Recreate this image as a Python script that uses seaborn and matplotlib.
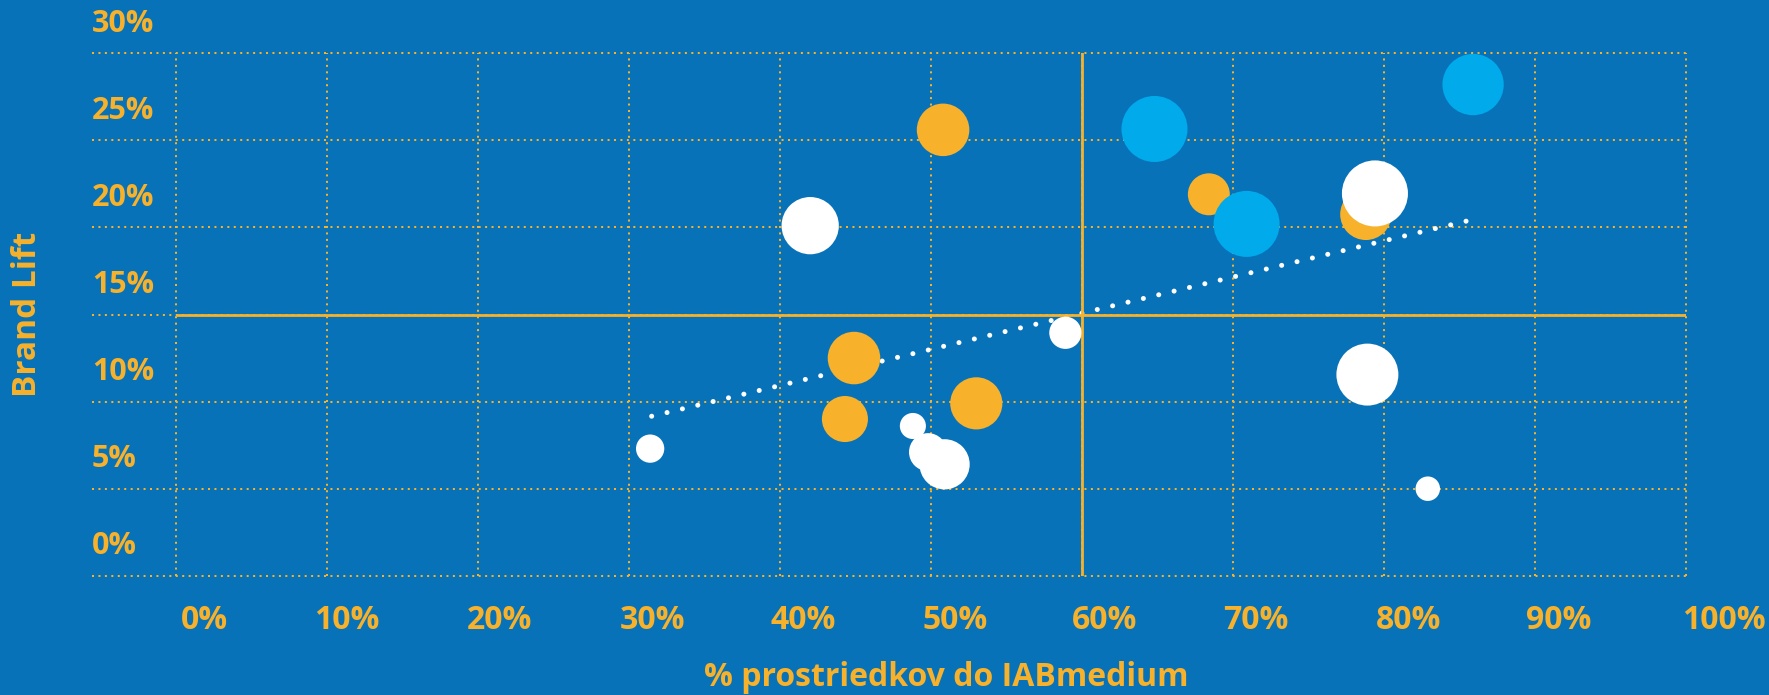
import matplotlib
matplotlib.use("Agg")
import matplotlib.pyplot as plt
from matplotlib.transforms import ScaledTranslation
import seaborn as sns
import pandas as pd

# ---------------- data ----------------
budget_share = [50.8, 44.9, 53.0, 44.3, 68.4, 78.8,          # orange group
                64.8, 85.9, 70.9,                            # blue group
                79.4, 42.0, 58.9, 78.9, 48.8, 31.4, 49.8, 50.9, 82.9]  # white group
brand_lift = [25.6, 12.5, 9.9, 9.0, 21.9, 20.75,
              25.65, 28.2, 20.2,
              21.95, 20.1, 13.95, 11.55, 8.6, 7.3, 7.1, 6.4, 5.0]
segment = ["A"] * 6 + ["B"] * 3 + ["C"] * 9
bubble_value = [69, 69, 68, 53, 44, 66,
                109, 94, 109,
                109, 82, 26, 96, 17, 20, 36, 63, 15]

trend_x = [31.5, 85.5]
trend_y = [9.16, 20.37]
avg_x = 60.0
avg_y = 15.0

x_ticks = [0, 10, 20, 30, 40, 50, 60, 70, 80, 90, 100]
x_tick_labels = ["0%", "10%", "20%", "30%", "40%", "50%", "60%", "70%", "80%", "90%", "100%"]
y_ticks = [0, 5, 10, 15, 20, 25, 30]
y_tick_labels = ["0%", "5%", "10%", "15%", "20%", "25%", "30%"]

x_title = "% prostriedkov do IABmedium"
y_title = "Brand Lift"

# ---------------- style ----------------
BG = "#0872B9"
ORANGE = "#F7B12B"
LIGHTBLUE = "#00AAEB"
WHITE = "#FFFFFF"
palette = {"A": ORANGE, "B": LIGHTBLUE, "C": WHITE}

sns.set_theme(style="white")
plt.rcParams["font.family"] = ["Open Sans", "DejaVu Sans"]

W, H, DPI = 1769, 695, 100
fig = plt.figure(figsize=(W / DPI, H / DPI), dpi=DPI, facecolor=BG)
left_px, right_px, top_px, bottom_px = 92, 1686, 53.2, 575.8
ax = fig.add_axes([left_px / W, 1 - bottom_px / H,
                   (right_px - left_px) / W, (bottom_px - top_px) / H])
ax.set_facecolor(BG)

df = pd.DataFrame({"share": budget_share, "lift": brand_lift,
                   "segment": segment, "value": bubble_value})

# trend line (behind bubbles), drawn as round dots
ax.plot(trend_x, trend_y, color=WHITE, linewidth=3.6,
        linestyle=(0, (0.01, 3.15)), dash_capstyle="round", zorder=2)

# mean lines
ax.axvline(avg_x, color=ORANGE, linewidth=2.0, zorder=2.5)
ax.hlines(avg_y, x_ticks[0], x_ticks[-1], color=ORANGE, linewidth=2.0, zorder=2.5)

# bubbles: area proportional to value
vmax = max(bubble_value)
k = 20.736  # pt^2 per unit
sns.scatterplot(data=df, x="share", y="lift", hue="segment", palette=palette,
                size="value", sizes=(0, k * vmax), size_norm=(0, vmax),
                linewidth=0, alpha=1, legend=False, ax=ax, zorder=3)

# axes limits
ax.set_xlim(-(176 - left_px) / 15.1, 100)
ax.set_ylim(0, 30)

# grid
ax.set_axisbelow(True)
ax.grid(True, color=ORANGE, linewidth=1.45, linestyle=(0, (1, 2.2)))
for ln in ax.get_xgridlines() + ax.get_ygridlines():
    ln.set_clip_on(False)
for sp in ax.spines.values():
    sp.set_visible(False)

# ticks
ax.set_xticks(x_ticks)
ax.set_xticklabels(x_tick_labels)
ax.set_yticks(y_ticks)
ax.set_yticklabels(y_tick_labels)
ax.tick_params(axis="both", length=0, labelcolor=ORANGE)
ax.tick_params(axis="x", pad=20, labelsize=23)
ax.tick_params(axis="y", pad=0, labelsize=22)
for lab in ax.get_yticklabels():
    lab.set_fontweight("bold")
    lab.set_horizontalalignment("left")
    lab.set_transform(lab.get_transform() + ScaledTranslation(0, 33 / DPI, fig.dpi_scale_trans))
x_shift = [28, 20, 22, 23, 23, 24, 23, 23, 25, 24, 38]
for lab, dx in zip(ax.get_xticklabels(), x_shift):
    lab.set_fontweight("bold")
    lab.set_transform(lab.get_transform() + ScaledTranslation(dx / DPI, 0, fig.dpi_scale_trans))

# axis titles
ax.set_xlabel(x_title, color=ORANGE, fontsize=23, fontweight="bold")
ax.xaxis.set_label_coords((946 - left_px) / (right_px - left_px),
                          (bottom_px - 678) / (bottom_px - top_px))
ax.xaxis.label.set_verticalalignment("center")
ax.set_ylabel(y_title, color=ORANGE, fontsize=24, fontweight="bold")
ax.yaxis.set_label_coords((27 - left_px) / (right_px - left_px),
                          (bottom_px - 314) / (bottom_px - top_px))
ax.yaxis.label.set_verticalalignment("center")

fig.savefig("out.png", dpi=DPI, facecolor=BG)
